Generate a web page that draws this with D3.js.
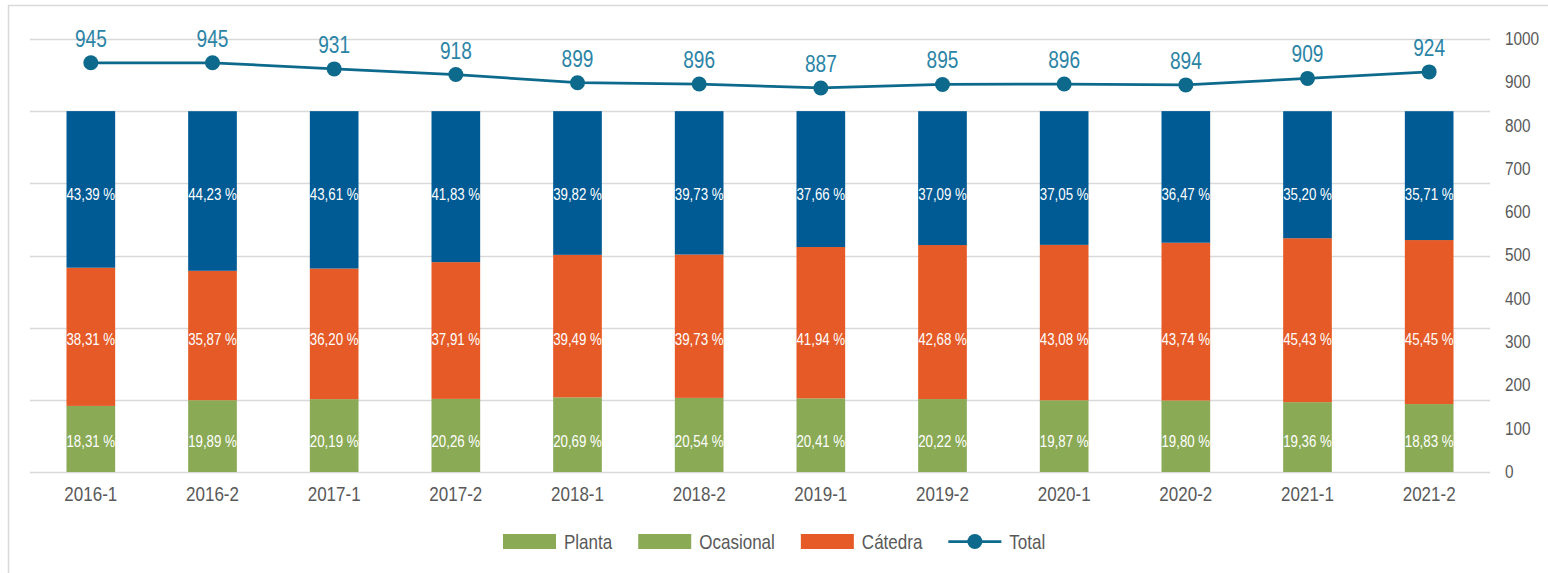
<!DOCTYPE html>
<html>
<head>
<meta charset="utf-8">
<title>Docentes por vinculación</title>
<style>
body { margin: 0; background: #fff; }
#chart { width: 1548px; height: 573px; display: block; }
text { font-family: "Liberation Sans", Arial, sans-serif; }
.pct { fill: #fff; font-size: 16px; }
.tot { fill: #2b84a6; font-size: 23px; }
.axis-lbl { fill: #595959; font-size: 18.5px; }
.x-lbl { fill: #595959; font-size: 20.5px; }
.legend-lbl { fill: #595959; font-size: 20.5px; }
</style>
</head>
<body>
<svg id="chart"></svg>
<script src="https://d3js.org/d3.v7.min.js"></script>
<script>
// datos
const periodos = ["2016-1","2016-2","2017-1","2017-2","2018-1","2018-2","2019-1","2019-2","2020-1","2020-2","2021-1","2021-2"];
const planta    = [18.31, 19.89, 20.19, 20.26, 20.69, 20.54, 20.41, 20.22, 19.87, 19.80, 19.36, 18.83];
const ocasional = [38.31, 35.87, 36.20, 37.91, 39.49, 39.73, 41.94, 42.68, 43.08, 43.74, 45.43, 45.45];
const catedra   = [43.39, 44.23, 43.61, 41.83, 39.82, 39.73, 37.66, 37.09, 37.05, 36.47, 35.20, 35.71];
const total     = [945, 945, 931, 918, 899, 896, 887, 895, 896, 894, 909, 924];
const rightTicks = [0, 100, 200, 300, 400, 500, 600, 700, 800, 900, 1000];
const gridTicks = [0, 20, 40, 60, 80, 100, 120];
// las etiquetas de cada serie van a la misma altura en todas las barras (en %)
const labelLevels = { planta: 8.3, ocasional: 36.6, catedra: 77.0 };
const legendNames = ["Planta", "Ocasional", "Cátedra", "Total"];

const W = 1548, H = 573;
const plot = { left: 30, right: 1490, top: 39, bottom: 472 };
const barColors = { planta: "#8aaa55", ocasional: "#e55a26", catedra: "#005a94" };
const legendColors = ["#8aaa55", "#8aaa55", "#e55a26"];
const lineColor = "#0d6a8c";
const NARROW = 0.83; // no hay Arial Narrow: se estrecha el texto

const svg = d3.select("#chart").attr("viewBox", `0 0 ${W} ${H}`);

// coloca un texto estrechado horizontalmente
function place(sel, fx, fy) {
  sel.attr("x", 0).attr("y", 0)
    .attr("transform", (d, i) => `translate(${fx(d, i)},${fy(d, i)}) scale(${NARROW},1)`);
}

// marco
svg.append("rect")
  .attr("x", 8.5).attr("y", 5.5)
  .attr("width", 1700).attr("height", 700)
  .attr("fill", "none").attr("stroke", "#d9d9d9").attr("stroke-width", 1.5);

const rows = periodos.map((p, i) => ({ periodo: p, planta: planta[i], ocasional: ocasional[i], catedra: catedra[i], total: total[i] }));

const x = d3.scaleBand().domain(periodos).range([plot.left, plot.right]).paddingInner(0.6).paddingOuter(0.3);
const yPct = d3.scaleLinear().domain([0, 120]).range([plot.bottom, plot.top]);
const yTot = d3.scaleLinear().domain([0, 1000]).range([plot.bottom, plot.top]);
const cx = p => x(p) + x.bandwidth() / 2;

// líneas de cuadrícula
svg.append("g").selectAll("line").data(gridTicks).join("line")
  .attr("x1", plot.left).attr("x2", plot.right)
  .attr("y1", d => Math.round(yPct(d)) + 0.5).attr("y2", d => Math.round(yPct(d)) + 0.5)
  .attr("stroke", "#d9d9d9").attr("stroke-width", 1.5);

// barras apiladas
const keys = ["planta", "ocasional", "catedra"];
const stacked = d3.stack().keys(keys)(rows);

const layers = svg.append("g").selectAll("g").data(stacked).join("g")
  .attr("fill", d => barColors[d.key]);

layers.selectAll("rect").data(d => d).join("rect")
  .attr("x", d => x(d.data.periodo))
  .attr("width", x.bandwidth())
  .attr("y", d => yPct(d[1]))
  .attr("height", d => yPct(d[0]) - yPct(d[1]));

layers.selectAll("text").data(d => d.map(v => ({ v, key: d.key }))).join("text")
  .attr("class", "pct")
  .attr("text-anchor", "middle")
  .attr("dominant-baseline", "central")
  .call(place, d => cx(d.v.data.periodo), d => yPct(labelLevels[d.key]))
  .text(d => d3.format(".2f")(d.v.data[d.key]).replace(".", ",") + " %");

// eje x
svg.append("g").selectAll("text").data(periodos).join("text")
  .attr("class", "x-lbl")
  .attr("text-anchor", "middle")
  .call(place, d => cx(d), () => 501)
  .text(d => d);

// eje derecho
svg.append("g").selectAll("text").data(rightTicks).join("text")
  .attr("class", "axis-lbl")
  .attr("dominant-baseline", "central")
  .call(place, () => 1505, d => yTot(d))
  .text(d => d);

// línea total
const line = d3.line()
  .x(d => cx(d.periodo))
  .y(d => yTot(d.total));

svg.append("path").datum(rows)
  .attr("fill", "none").attr("stroke", lineColor).attr("stroke-width", 2.75)
  .attr("d", line);

svg.append("g").selectAll("circle").data(rows).join("circle")
  .attr("cx", d => cx(d.periodo))
  .attr("cy", d => yTot(d.total))
  .attr("r", 7.5)
  .attr("fill", lineColor);

svg.append("g").selectAll("text").data(rows).join("text")
  .attr("class", "tot")
  .attr("text-anchor", "middle")
  .call(place, d => cx(d.periodo), d => yTot(d.total) - 16)
  .text(d => d.total);

// leyenda
const legend = svg.append("g");
let lx = 503;
const ly = 541.5;
legendNames.forEach((name, i) => {
  const g = legend.append("g");
  if (i < 3) {
    g.append("rect").attr("x", lx).attr("y", ly - 7.5).attr("width", 53).attr("height", 15).attr("fill", legendColors[i]);
  } else {
    g.append("line").attr("x1", lx).attr("x2", lx + 53).attr("y1", ly).attr("y2", ly)
      .attr("stroke", lineColor).attr("stroke-width", 2.75);
    g.append("circle").attr("cx", lx + 26.5).attr("cy", ly).attr("r", 7.5).attr("fill", lineColor);
  }
  const t = g.append("text").attr("class", "legend-lbl")
    .attr("dominant-baseline", "central")
    .attr("transform", `translate(${lx + 61},${ly}) scale(${NARROW},1)`)
    .text(name);
  lx += 61 + t.node().getComputedTextLength() * NARROW + 26;
});
</script>
</body>
</html>
